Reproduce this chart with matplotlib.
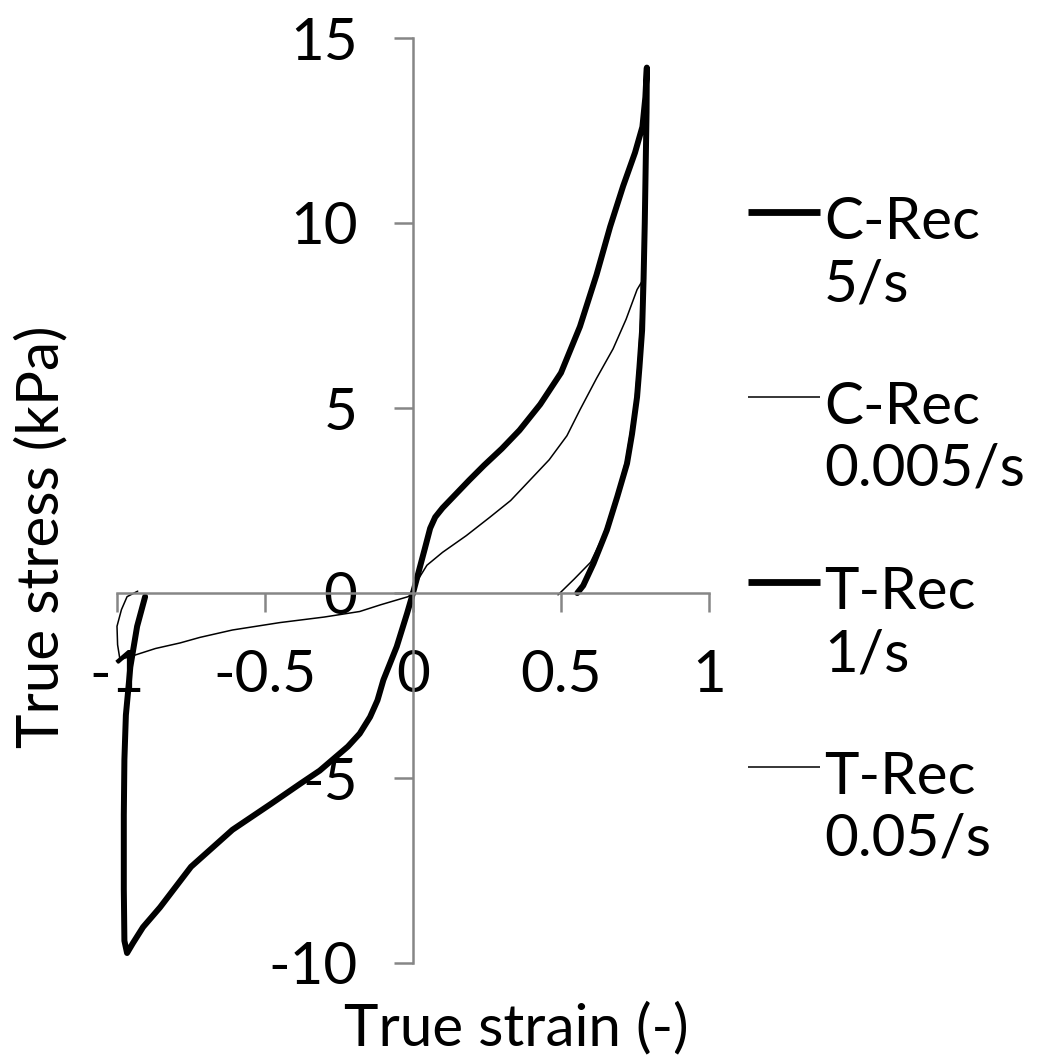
import matplotlib
matplotlib.use("Agg")
import matplotlib.pyplot as plt
from matplotlib.lines import Line2D

plt.rcParams['font.family'] = ['Lato', 'DejaVu Sans']

# C-Rec 5/s (thick): loading, peak, unloading
c5_strain = [0, 0.02, 0.04, 0.058, 0.075, 0.1, 0.13, 0.19, 0.24, 0.30, 0.36, 0.43, 0.50,
             0.564, 0.62, 0.666, 0.71, 0.75, 0.775, 0.785, 0.79, 0.789, 0.786, 0.783,
             0.779, 0.774, 0.765, 0.757, 0.74, 0.723, 0.69, 0.655, 0.61, 0.575, 0.555]
c5_stress = [0, 0.6, 1.2, 1.75, 2.05, 2.3, 2.55, 3.05, 3.45, 3.9, 4.4, 5.1, 5.95,
             7.2, 8.6, 9.9, 11.0, 11.9, 12.6, 13.4, 14.2, 13.0, 11.5, 10.0,
             8.5, 7.1, 6.1, 5.3, 4.3, 3.5, 2.6, 1.7, 0.8, 0.2, 0.0]

# C-Rec 0.005/s (thin)
c005_strain = [0, 0.02, 0.047, 0.1, 0.18, 0.26, 0.33, 0.395, 0.46, 0.52, 0.564, 0.62,
               0.676, 0.72, 0.757, 0.772, 0.77, 0.762, 0.748, 0.72, 0.68, 0.64, 0.60,
               0.545, 0.49]
c005_stress = [0, 0.4, 0.75, 1.1, 1.55, 2.05, 2.5, 3.05, 3.6, 4.25, 4.95, 5.8,
               6.6, 7.4, 8.2, 8.4, 7.5, 6.3, 5.0, 3.6, 2.4, 1.5, 0.83,
               0.38, -0.05]

# T-Rec 1/s (thick)
t1_strain = [0, -0.02, -0.055, -0.1, -0.12, -0.145, -0.18, -0.22, -0.315, -0.38, -0.48,
             -0.61, -0.75, -0.855, -0.912, -0.946, -0.966, -0.975, -0.977, -0.977,
             -0.975, -0.97, -0.963, -0.955, -0.932, -0.905]
t1_stress = [0, -0.55, -1.45, -2.35, -2.9, -3.35, -3.8, -4.15, -4.8, -5.15, -5.7,
             -6.4, -7.4, -8.5, -9.03, -9.46, -9.73, -9.4, -8.0, -6.0,
             -4.5, -3.3, -2.7, -2.0, -0.9, -0.1]

# T-Rec 0.05/s (thin)
t005_strain = [0, -0.017, -0.11, -0.18, -0.3, -0.45, -0.61, -0.72, -0.787, -0.87, -0.94,
               -0.99, -0.998, -1.0, -0.985, -0.966, -0.93]
t005_stress = [0, -0.1, -0.32, -0.5, -0.65, -0.8, -1.0, -1.2, -1.35, -1.5, -1.68,
               -1.8, -1.4, -0.9, -0.45, -0.1, 0.05]

x_ticks = [-1, -0.5, 0, 0.5, 1]
x_labels = ['-1', '-0.5', '0', '0.5', '1']
y_ticks = [-10, -5, 0, 5, 10, 15]
y_labels = ['-10', '-5', '0', '5', '10', '15']

series = [
    (c5_strain, c5_stress, 4.3, ('C-Rec', '5/s')),
    (c005_strain, c005_stress, 1.1, ('C-Rec', '0.005/s')),
    (t1_strain, t1_stress, 4.3, ('T-Rec', '1/s')),
    (t005_strain, t005_stress, 1.1, ('T-Rec', '0.05/s')),
]

W = 1056
fig = plt.figure(figsize=(10.56, 10.56), dpi=100)
ax = fig.add_axes([117 / W, 1 - 963 / W, 592 / W, 925 / W])

for xs, ys, lw, _ in series:
    ax.plot(xs, ys, color='black', lw=lw, solid_joinstyle='round',
            solid_capstyle='round', clip_on=False)

ax.set_xlim(-1, 1)
ax.set_ylim(-10, 15)
ax.spines['left'].set_position(('data', 0))
ax.spines['bottom'].set_position(('data', 0))
ax.spines['top'].set_visible(False)
ax.spines['right'].set_visible(False)
for s in ['left', 'bottom']:
    ax.spines[s].set_color('#868686')
    ax.spines[s].set_linewidth(1.8)
ax.set_xticks(x_ticks, x_labels)
ax.set_yticks(y_ticks, y_labels)
ax.tick_params(direction='out', length=14, width=1.8, color='#868686',
               labelsize=42, pad=26)

fig.text(516 / W, 1 - 1045 / W, 'True strain (-)', fontsize=42,
         ha='center', va='baseline')
fig.text(42 / W, 1 - 537 / W, 'True stress (kPa)', fontsize=42,
         rotation=90, ha='center', va='center')

# legend drawn by hand: handle aligned with the first line of each label
for i, (_, _, lw, (l1, l2)) in enumerate(series):
    yc = 218 + 185 * i
    ly = 1 - (yc - 6) / W
    fig.add_artist(Line2D([748 / W, 820 / W], [ly, ly], color='black',
                          lw=lw + 0.6 if lw > 2 else lw, solid_capstyle='butt'))
    fig.text(824 / W, 1 - (yc + 21) / W, l1, fontsize=42, va='baseline')
    fig.text(824 / W, 1 - (yc + 83) / W, l2, fontsize=42, va='baseline')

fig.savefig('out.png', dpi=100)
